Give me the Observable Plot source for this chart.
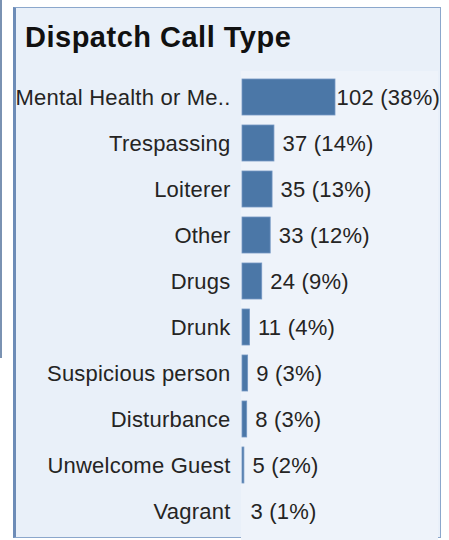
<!DOCTYPE html>
<html><head><meta charset="utf-8">
<script src="https://cdn.jsdelivr.net/npm/d3@7"></script>
<script src="https://cdn.jsdelivr.net/npm/@observablehq/plot@0.6"></script>
<style>
html,body{margin:0;padding:0;}
body{width:449px;height:540px;background:#ffffff;position:relative;overflow:hidden;font-family:"Liberation Sans",Arial,sans-serif;}
#edge{position:absolute;left:0;top:0;width:2px;height:358px;background:#7a92b2;}
#panel{position:absolute;left:13px;top:7px;width:424px;height:529px;background:#e9f0f9;border:1.5px solid #8ba7cc;border-left:3px solid #6d8cb7;}
#plotbg{position:absolute;left:241px;top:71px;width:197px;height:469px;background:#eef3fa;}
#title{position:absolute;left:25px;top:22.5px;font:bold 29px "Liberation Sans",Arial,sans-serif;letter-spacing:0.5px;line-height:1;color:#111;white-space:nowrap;}
#chart{position:absolute;left:0;top:0;}
#chart svg text{letter-spacing:0.22px;}
</style>
</head><body>
<div id="edge"></div>
<div id="panel"></div>
<div id="plotbg"></div>
<div id="title">Dispatch Call Type</div>
<div id="chart"></div>
<script>
const categories = ["Mental Health or Me..", "Trespassing", "Loiterer", "Other", "Drugs", "Drunk", "Suspicious person", "Disturbance", "Unwelcome Guest", "Vagrant"];
const counts = [102, 37, 35, 33, 24, 11, 9, 8, 5, 3];
const percents = [38, 14, 13, 12, 9, 4, 3, 3, 2, 1];

const data = categories.map((c, i) => ({type: c, count: counts[i], pct: percents[i]}));
const xMin = d3.min(counts);
const xMax = d3.max(counts);
const label = d => `${d.count} (${d.pct}%)`;
const textColor = "#252423";
const fs = 22;

const chart = Plot.plot({
  width: 449,
  height: 540,
  marginTop: 72,
  marginBottom: 3.5,
  marginLeft: 242,
  marginRight: 114,
  style: {fontFamily: "'Liberation Sans', Arial, sans-serif", background: "transparent", color: textColor, overflow: "visible"},
  x: {domain: [xMin, xMax], axis: null},
  y: {domain: categories, paddingInner: 0.225, paddingOuter: 0.1125, axis: null},
  marks: [
    Plot.barX(data, {y: "type", x1: xMin, x2: "count", fill: "#4b77a7", stroke: "#7396c2", strokeWidth: 0.8}),
    Plot.text(data, {filter: d => d.count === xMax, x: "count", y: "type", text: label, textAnchor: "start", dx: 1, fontSize: fs, fill: textColor}),
    Plot.text(data, {filter: d => d.count !== xMax, x: "count", y: "type", text: label, textAnchor: "start", dx: 8, fontSize: fs, fill: textColor}),
    Plot.axisY({tickSize: 0, tickPadding: 12, fontSize: fs, label: null})
  ]
});
document.getElementById("chart").appendChild(chart);
</script>
</body></html>
